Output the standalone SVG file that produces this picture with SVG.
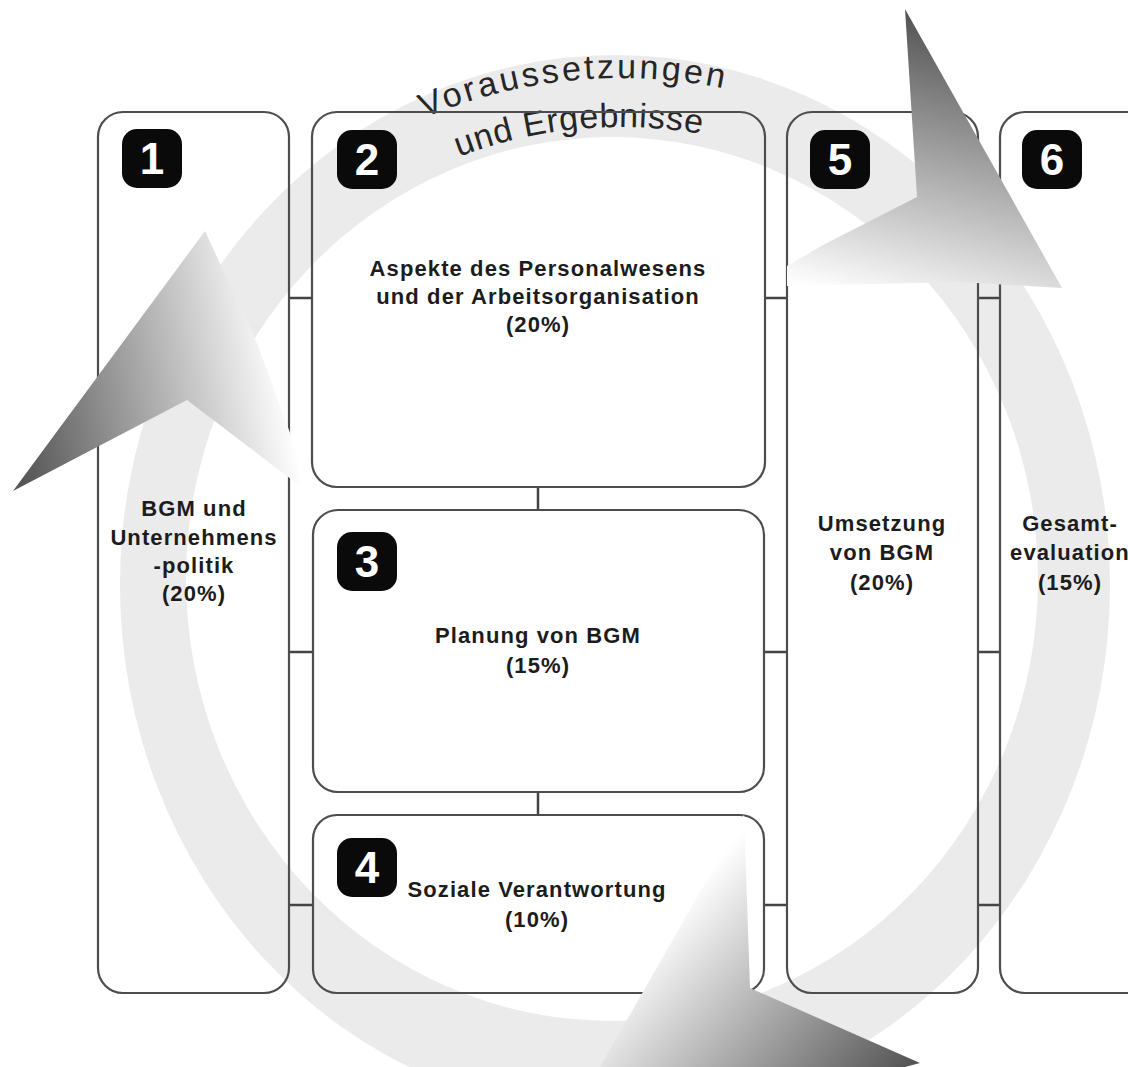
<svg xmlns="http://www.w3.org/2000/svg" width="1128" height="1067" viewBox="0 0 1128 1067">
<defs>
<style>
.box{fill:none;stroke:#4d4d4d;stroke-width:2.2}
.conn{stroke:#444;stroke-width:2.5}
.badge{fill:#0a0a0a}
.num{font-family:"Liberation Sans",Arial,sans-serif;font-weight:bold;font-size:44px;fill:#fff;text-anchor:middle}
.lbl{font-family:"Liberation Sans",Arial,sans-serif;font-weight:bold;font-size:22px;fill:#1c1c1c;text-anchor:middle;letter-spacing:1.1px}
.arc{font-family:"Liberation Sans",Arial,sans-serif;font-size:34px;fill:#262626}
</style>
<path id="arcA" d="M116,583 A505,505 0 0 1 1126,583"/>
<path id="arcB" d="M165,583 A456,456 0 0 1 1077,583"/>
<linearGradient id="g1" gradientUnits="userSpaceOnUse" x1="20" y1="470" x2="292" y2="420">
<stop offset="0" stop-color="#555"/><stop offset="1" stop-color="#fff"/>
</linearGradient>
<linearGradient id="g2" gradientUnits="userSpaceOnUse" x1="930" y1="20" x2="860" y2="300">
<stop offset="0" stop-color="#555"/><stop offset="1" stop-color="#fff"/>
</linearGradient>
<linearGradient id="g3" gradientUnits="userSpaceOnUse" x1="700" y1="880" x2="910" y2="1065">
<stop offset="0" stop-color="#fff"/><stop offset="1" stop-color="#555"/>
</linearGradient>
</defs>
<rect width="1128" height="1067" fill="#fff"/>
<g id="ring">
<path fill="#ebebeb" fill-rule="evenodd" d="M120,585 A495,530 0 1 1 1110,585 A495,530 0 1 1 120,585 Z M186,579 A426,442 0 1 0 1038,579 A426,442 0 1 0 186,579 Z"/>
</g>
<g id="title">
<text class="arc" letter-spacing="3"><textPath href="#arcA" startOffset="745" text-anchor="middle">Voraussetzungen</textPath></text>
<text class="arc" letter-spacing="0.8"><textPath href="#arcB" startOffset="674" text-anchor="middle">und Ergebnisse</textPath></text>
</g>
<g id="connectors">
<line class="conn" x1="289" y1="298" x2="312" y2="298"/>
<line class="conn" x1="289" y1="652" x2="313" y2="652"/>
<line class="conn" x1="289" y1="905" x2="313" y2="905"/>
<line class="conn" x1="765" y1="298" x2="787" y2="298"/>
<line class="conn" x1="764" y1="652" x2="787" y2="652"/>
<line class="conn" x1="764" y1="905" x2="787" y2="905"/>
<line class="conn" x1="978" y1="298" x2="1000" y2="298"/>
<line class="conn" x1="978" y1="652" x2="1000" y2="652"/>
<line class="conn" x1="978" y1="905" x2="1000" y2="905"/>
<line class="conn" x1="538" y1="487" x2="538" y2="510"/>
<line class="conn" x1="538" y1="792" x2="538" y2="815"/>
</g>
<g id="node1">
<rect class="box" x="98" y="112" width="191" height="881" rx="25"/>
<rect class="badge" x="122" y="129" width="60" height="59" rx="15"/>
<text class="num" x="152" y="174">1</text>
<text class="lbl" x="194" y="516">BGM und</text>
<text class="lbl" x="194" y="545">Unternehmens</text>
<text class="lbl" x="194" y="573">-politik</text>
<text class="lbl" x="194" y="601">(20%)</text>
</g>
<g id="node2">
<rect class="box" x="312" y="112" width="453" height="375" rx="25"/>
<rect class="badge" x="337" y="130" width="60" height="59" rx="15"/>
<text class="num" x="367" y="175">2</text>
<text class="lbl" x="538" y="276">Aspekte des Personalwesens</text>
<text class="lbl" x="538" y="304">und der Arbeitsorganisation</text>
<text class="lbl" x="538" y="332">(20%)</text>
</g>
<g id="node3">
<rect class="box" x="313" y="510" width="451" height="282" rx="25"/>
<rect class="badge" x="337" y="532" width="60" height="59" rx="15"/>
<text class="num" x="367" y="577">3</text>
<text class="lbl" x="538" y="643">Planung von BGM</text>
<text class="lbl" x="538" y="673">(15%)</text>
</g>
<g id="node4">
<rect class="box" x="313" y="815" width="451" height="178" rx="24"/>
<rect class="badge" x="337" y="838" width="60" height="59" rx="15"/>
<text class="num" x="367" y="883">4</text>
<text class="lbl" x="537" y="897">Soziale Verantwortung</text>
<text class="lbl" x="537" y="927">(10%)</text>
</g>
<g id="node5">
<rect class="box" x="787" y="112" width="191" height="881" rx="25"/>
<rect class="badge" x="810" y="130" width="60" height="59" rx="15"/>
<text class="num" x="840" y="175">5</text>
<text class="lbl" x="882" y="531">Umsetzung</text>
<text class="lbl" x="882" y="560">von BGM</text>
<text class="lbl" x="882" y="590">(20%)</text>
</g>
<g id="node6">
<rect class="box" x="1000" y="112" width="191" height="881" rx="25"/>
<rect class="badge" x="1022" y="130" width="60" height="59" rx="15"/>
<text class="num" x="1052" y="175">6</text>
<text class="lbl" x="1070" y="531">Gesamt-</text>
<text class="lbl" x="1070" y="560">evaluation</text>
<text class="lbl" x="1070" y="590">(15%)</text>
</g>
<g id="arrows">
<polygon fill="url(#g1)" points="13,491 205,231 257,343 300,460 300,486 187,400"/>
<polygon fill="url(#g2)" points="905,9 1062,288 960,282 787,286 787,266 823,245 917,197"/>
<polygon fill="url(#g3)" points="744,815 750,988 920,1063 905,1067 600,1067"/>
</g>
</svg>
